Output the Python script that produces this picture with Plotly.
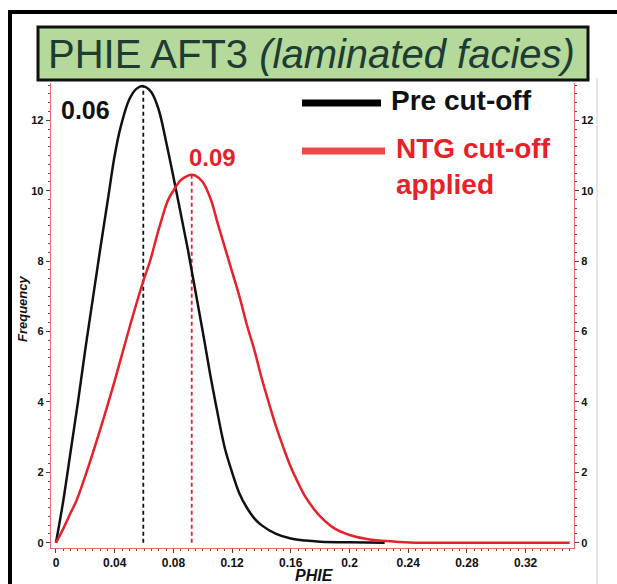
import plotly.graph_objects as go

# ---- data ----
pre_x = [0, 0.005, 0.01, 0.015, 0.02, 0.025, 0.03, 0.0354, 0.04, 0.044, 0.05, 0.055, 0.0595,
         0.065, 0.07, 0.075, 0.08, 0.085, 0.09, 0.095, 0.1, 0.105, 0.1084, 0.115, 0.12, 0.125,
         0.13, 0.135, 0.14, 0.15, 0.16, 0.17, 0.18, 0.2, 0.224]
pre_y = [0, 1.2, 2.6, 4.0, 5.5, 6.9, 8.3, 9.76, 11.0, 11.8, 12.6, 12.9, 12.97,
         12.8, 12.3, 11.4, 10.4, 9.35, 8.3, 7.15, 6.0, 4.8, 4.05, 2.7, 2.0, 1.4,
         1.0, 0.7, 0.5, 0.25, 0.12, 0.06, 0.03, 0.01, 0.0]

ntg_x = [0, 0.005, 0.01, 0.014, 0.02, 0.03, 0.04, 0.05, 0.06, 0.0641, 0.07, 0.0763, 0.08, 0.085,
         0.09, 0.0925, 0.095, 0.1, 0.1057, 0.11, 0.115, 0.12, 0.125, 0.13, 0.135, 0.14, 0.1445,
         0.15, 0.155, 0.16, 0.165, 0.17, 0.175, 0.18, 0.19, 0.2, 0.21, 0.22, 0.235, 0.245, 0.3, 0.35]
ntg_y = [0, 0.4, 0.85, 1.2, 1.9, 3.2, 4.6, 6.1, 7.5, 8.0, 8.9, 9.73, 10.0, 10.3,
         10.43, 10.45, 10.43, 10.25, 9.73, 9.1, 8.4, 7.7, 7.0, 6.2, 5.5, 4.7, 4.05,
         3.3, 2.7, 2.15, 1.7, 1.3, 1.0, 0.75, 0.4, 0.22, 0.12, 0.06, 0.02, 0.0, 0.0, 0.0]

mode_pre = 0.0595
mode_pre_label = "0.06"
peak_pre = 12.97
mode_ntg = 0.0925
mode_ntg_label = "0.09"
peak_ntg = 10.45

x_ticks = [0, 0.04, 0.08, 0.12, 0.16, 0.2, 0.24, 0.28, 0.32]
x_tick_labels = ["0", "0.04", "0.08", "0.12", "0.16", "0.2", "0.24", "0.28", "0.32"]
y_ticks = [0, 2, 4, 6, 8, 10, 12]

title_main = "PHIE AFT3 "
title_sub = "(laminated facies)"
legend_labels = ["Pre cut-off", "NTG cut-off<br>applied"]

# ---- styling ----
W, H = 617, 584
BLACK = "#111111"
RED = "#e8202a"
AXIS_RED = "#e86a6a"
FONT = "Liberation Sans, Arial, sans-serif"

def px(x):
    return x / W

def py(y):
    return 1 - y / H

fig = go.Figure()

fig.add_trace(go.Scatter(x=[mode_pre, mode_pre], y=[0, peak_pre], mode="lines",
                         line=dict(color=BLACK, width=1.8, dash="4px,3px"), showlegend=False))
fig.add_trace(go.Scatter(x=[mode_ntg, mode_ntg], y=[0, peak_ntg], mode="lines",
                         line=dict(color=RED, width=1.8, dash="4px,3px"), showlegend=False))
fig.add_trace(go.Scatter(x=pre_x, y=pre_y, mode="lines", line_shape="spline",
                         line=dict(color=BLACK, width=2.5), showlegend=False))
fig.add_trace(go.Scatter(x=ntg_x, y=ntg_y, mode="lines", line_shape="spline",
                         line=dict(color=RED, width=2.5), showlegend=False))
# invisible trace to activate the right axis
fig.add_trace(go.Scatter(x=[0], y=[0], yaxis="y2", mode="markers",
                         marker=dict(opacity=0), showlegend=False, hoverinfo="skip"))

xdom = [px(50.7), px(574)]
ydom = [py(548), py(83)]
yrange = [-0.15, 13.06]

axis_common = dict(showgrid=False, zeroline=False, showline=True, linecolor=AXIS_RED,
                   linewidth=1, ticks="outside", ticklen=4, tickcolor="#444444", tickwidth=1)

fig.update_layout(
    width=W, height=H,
    margin=dict(l=0, r=0, t=0, b=0),
    paper_bgcolor="white", plot_bgcolor="white",
    font=dict(family=FONT, color=BLACK),
    xaxis=dict(domain=xdom, range=[-0.0036, 0.353], tickvals=x_ticks, ticktext=x_tick_labels,
               tickfont=dict(size=12, family=FONT, color=BLACK, weight="bold"),
               minor=dict(dtick=0.005, tick0=0, ticks="outside", ticklen=2, tickcolor="#555555"),
               **axis_common),
    yaxis=dict(domain=ydom, range=yrange, tickvals=y_ticks,
               tickfont=dict(size=11, family=FONT, color=BLACK, weight="bold"),
               minor=dict(dtick=0.25, tick0=0, ticks="outside", ticklen=2, tickcolor="#555555"),
               **axis_common),
    yaxis2=dict(overlaying="y", side="right", range=yrange, tickvals=y_ticks,
                tickfont=dict(size=11, family=FONT, color=BLACK, weight="bold"),
                minor=dict(dtick=0.25, tick0=0, ticks="outside", ticklen=2, tickcolor="#555555"),
                anchor="x", **axis_common),
)

shapes = [
    # outer black frame (left and top)
    dict(type="line", xref="paper", yref="paper", x0=px(10), x1=px(10), y0=py(11), y1=0,
         line=dict(color="black", width=4)),
    dict(type="line", xref="paper", yref="paper", x0=px(8), x1=1, y0=py(12), y1=py(12),
         line=dict(color="black", width=4)),
    # gray right guide
    dict(type="line", xref="paper", yref="paper", x0=px(597), x1=px(597), y0=py(78), y1=0,
         line=dict(color="#cfcfcf", width=1)),
    # title box
    dict(type="rect", xref="paper", yref="paper", x0=px(38), x1=px(588), y0=py(80), y1=py(27),
         fillcolor="#b4d99b", line=dict(color="#111111", width=3)),
    # legend bars
    dict(type="line", xref="paper", yref="paper", x0=px(302), x1=px(381), y0=py(103), y1=py(103),
         line=dict(color="black", width=7)),
    dict(type="line", xref="paper", yref="paper", x0=px(302), x1=px(385), y0=py(151), y1=py(151),
         line=dict(color="#ee4848", width=7)),
]
fig.update_layout(shapes=shapes)

ann = [
    dict(text=title_main + "<i>" + title_sub + "</i>", x=px(312), y=py(54), xref="paper", yref="paper",
         showarrow=False, font=dict(size=40, color="#1d3c34", family=FONT), xanchor="center", yanchor="middle"),
    dict(text="<b>" + legend_labels[0] + "</b>", x=px(389), y=py(100), xref="paper", yref="paper",
         showarrow=False, font=dict(size=28, color=BLACK, family=FONT), xanchor="left", yanchor="middle"),
    dict(text="<b>" + legend_labels[1] + "</b>", x=px(394), y=py(166), xref="paper", yref="paper",
         showarrow=False, font=dict(size=28, color=RED, family=FONT), xanchor="left", yanchor="middle",
         align="left"),
    dict(text="<b>" + mode_pre_label + "</b>", x=px(85), y=py(110), xref="paper", yref="paper",
         showarrow=False, font=dict(size=25, color=BLACK, family=FONT), xanchor="center", yanchor="middle"),
    dict(text="<b>" + mode_ntg_label + "</b>", x=px(212), y=py(157), xref="paper", yref="paper",
         showarrow=False, font=dict(size=24, color=RED, family=FONT), xanchor="center", yanchor="middle"),
    dict(text="<b><i>Frequency</i></b>", x=px(23), y=py(309), xref="paper", yref="paper", textangle=-90,
         showarrow=False, font=dict(size=13, color=BLACK, family=FONT), xanchor="center", yanchor="middle"),
    dict(text="<b><i>PHIE</i></b>", x=px(314), y=py(575), xref="paper", yref="paper",
         showarrow=False, font=dict(size=16, color=BLACK, family=FONT), xanchor="center", yanchor="middle"),
]
fig.update_layout(annotations=ann)

fig.write_html("out.html")
